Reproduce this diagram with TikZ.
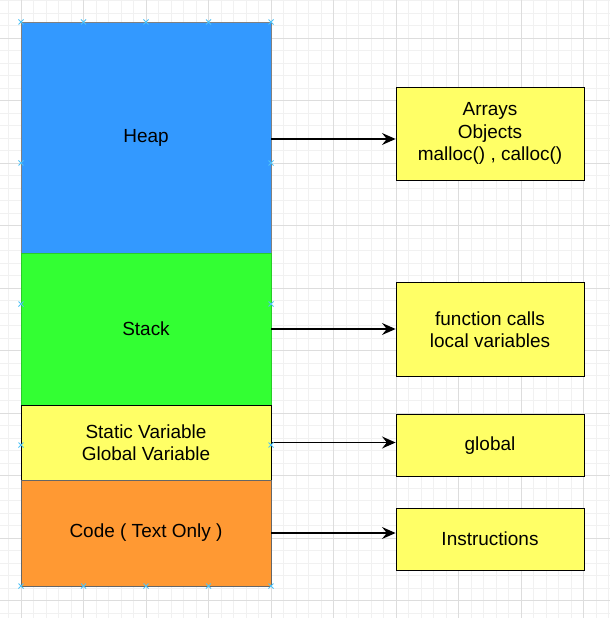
\documentclass[tikz,border=0pt]{standalone}
\usepackage{fontspec}
\setmainfont{Liberation Sans}
\usetikzlibrary{arrows.meta}
\definecolor{heapblue}{HTML}{3399FF}
\definecolor{stackgreen}{HTML}{33FF33}
\definecolor{memyellow}{HTML}{FFFF66}
\definecolor{codeorange}{HTML}{FF9933}
\definecolor{majorgrid}{HTML}{DDDDDD}
\definecolor{minorgrid}{HTML}{F1F1F1}
\definecolor{pinblue}{HTML}{4FC3F7}
\tikzset{
  seg/.style={draw=gray,minimum width=62.5mm,inner sep=0pt,align=center,font=\fontsize{13.5}{16}\selectfont},
  note/.style={draw=black,fill=memyellow,minimum width=47mm,inner sep=0pt,align=center,font=\fontsize{13.5}{16}\selectfont,line width=0.6pt},
  pin/.style={pinblue,line width=0.7pt}
}
\begin{document}
\begin{tikzpicture}[x=0.25mm,y=-0.25mm]
                \useasboundingbox (0,0) rectangle (610,618);
                \fill[white] (0,0) rectangle (610,618);
                % grid
                \foreach \gx in {8.5,21,...,610} \draw[minorgrid,line width=0.3pt] (\gx,0) -- (\gx,618);
                \foreach \gy in {0.5,13,...,618} \draw[minorgrid,line width=0.3pt] (0,\gy) -- (610,\gy);
                \foreach \gx in {21,83.5,...,610} \draw[majorgrid,line width=0.4pt] (\gx,0) -- (\gx,618);
                \foreach \gy in {38,100.5,...,618} \draw[majorgrid,line width=0.4pt] (0,\gy) -- (610,\gy);
                % memory layout
                \node[seg,fill=heapblue,minimum height=57.75mm] (heap) at (146,137.5) {Heap};
                \node[seg,fill=stackgreen,draw=stackgreen!80!black,minimum height=38mm] (stack) at (146,329) {Stack};
                \node[seg,fill=memyellow,draw=black,minimum height=18.75mm] (static) at (146,442.5) {Static Variable\\Global Variable};
                \node[seg,fill=codeorange,draw=gray!80!black,minimum height=26.5mm] (code) at (146,533) {Code ( Text Only )};
                % what lives there
                \node[note,minimum height=23.25mm] (arrays) at (490,133.5) {Arrays\\Objects\\malloc() , calloc()};
                \node[note,minimum height=23.4mm] (calls) at (490,329.5) {function calls\\local variables};
                \node[note,minimum height=15.5mm] (global) at (490,445.5) {global};
                \node[note,minimum height=15.5mm] (instr) at (490,539) {Instructions};
                \draw [-{Stealth[length=3.4mm,width=3mm,inset=1.2mm]},line width=0.9pt] (heap.east) ++(0,1.5) coordinate (h) -- (h -| arrays.west);
                \draw [-{Stealth[length=3.4mm,width=3mm,inset=1.2mm]},line width=0.9pt] (stack.east) -- (stack.east -| calls.west);
                \draw [-{Stealth[length=3.4mm,width=3mm,inset=1.2mm]},line width=0.9pt] (static.east) -- (static.east -| global.west);
                \draw [-{Stealth[length=3.4mm,width=3mm,inset=1.2mm]},line width=0.9pt] (code.east) -- (code.east -| instr.west);
                % connection markers
                \foreach \px in {21,83.5,146,208.5,271} {
                    \draw[pin] (\px,22) +(-2.5,-2.5) -- +(2.5,2.5) +(-2.5,2.5) -- +(2.5,-2.5);
                    \draw[pin] (\px,586) +(-2.5,-2.5) -- +(2.5,2.5) +(-2.5,2.5) -- +(2.5,-2.5);
                }
                \foreach \px in {21,271} \foreach \py in {163,304,445}
                    \draw[pin] (\px,\py) +(-2.5,-2.5) -- +(2.5,2.5) +(-2.5,2.5) -- +(2.5,-2.5);
            \end{tikzpicture}
\end{document}
